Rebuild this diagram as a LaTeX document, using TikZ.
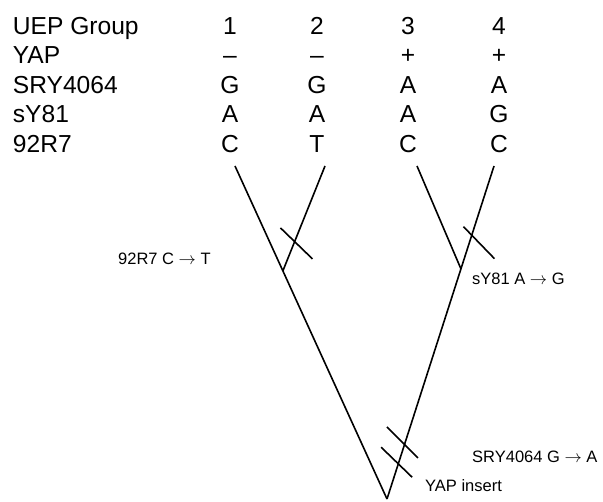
\documentclass[tikz,border=0pt]{standalone}
\usepackage{fontspec}
\setmainfont{Liberation Sans}
\usepackage{tikz}
\usetikzlibrary{calc,positioning}

\tikzset{
	cell/.style={anchor=base,inner sep=0pt,font=\fontsize{24.6}{29}\selectfont},
	rowlbl/.style={cell,anchor=base west},
	mut/.style={anchor=base west,inner sep=0pt,font=\fontsize{16.5}{20}\selectfont},
	branch/.style={line width=1.6pt},
	tick/.style={line width=1.6pt}
}

\begin{document}
\begin{tikzpicture}[x=1pt,y=-1pt]
			\useasboundingbox[fill=white] (0,0) rectangle (603,502);
			\begin{scope}
				% marker table
				\node[rowlbl] (uep) at (12.7,34.5) {UEP Group};
				\node[rowlbl] (yap) at (12.7,63.8) {YAP};
				\node[rowlbl] (sry) at (12.7,93.3) {SRY4064};
				\node[rowlbl] (sy) at (12.7,123) {sY81};
				\node[rowlbl] (r92) at (12.7,152.7) {92R7};
				\foreach \c/\x/\s/\y/\r in {1/230/G/A/C,2/317/G/A/T,3/408/A/A/C,4/499/A/G/C}{
					\node[cell] (uep\c) at (\x,34.5) {\c};
					\node[cell] (sry\c) at (\x,93.3) {\s};
					\node[cell] (sy\c) at (\x,123) {\y};
					\node[cell] (r92\c) at (\x,152.7) {\r};
				}
				\node[cell] (yap1) at (230,63.8) {\textendash};
				\node[cell] (yap2) at (317,63.8) {\textendash};
				\node[cell] (yap3) at (408,63.8) {+};
				\node[cell] (yap4) at (499,63.8) {+};
			\end{scope}
			\begin{scope}
				% tree
				\coordinate (t1) at (235,166);
				\coordinate (t2) at (325,166);
				\coordinate (t3) at (417,166);
				\coordinate (t4) at (494,166);
				\coordinate (root) at (387,499);
				\coordinate (j1) at ($(t1)!0.315!(root)$);
				\coordinate (j2) at ($(t4)!0.309!(root)$);
				\draw[branch] (t1) -- (root);
				\draw[branch] (t2) -- (j1);
				\draw[branch] (t3) -- (j2);
				\draw[branch] (t4) -- (root);
				\draw[tick] ($(t2)!0.724!(j1)$) ++(-14,-14) -- ++(32,31);
				\draw[tick] ($(t4)!0.673!(j2)$) ++(-8.3,-8.6) -- ++(31,32);
				\draw[tick] ($(j2)!0.763!(root)$) ++(-17.5,-17.5) -- ++(31,31);
				\draw[tick] ($(j2)!0.849!(root)$) ++(-17,-17) -- ++(31,30);
				\node[mut] (m92) at (118,264.3) {92R7 C $\rightarrow$ T};
				\node[mut] (msy) at (472,284.3) {sY81 A $\rightarrow$ G};
				\node[mut] (msry) at (472,462.3) {SRY4064 G $\rightarrow$ A};
				\node[mut] (myap) at (425,491.7) {YAP insert};
			\end{scope}
		\end{tikzpicture}
\end{document}
